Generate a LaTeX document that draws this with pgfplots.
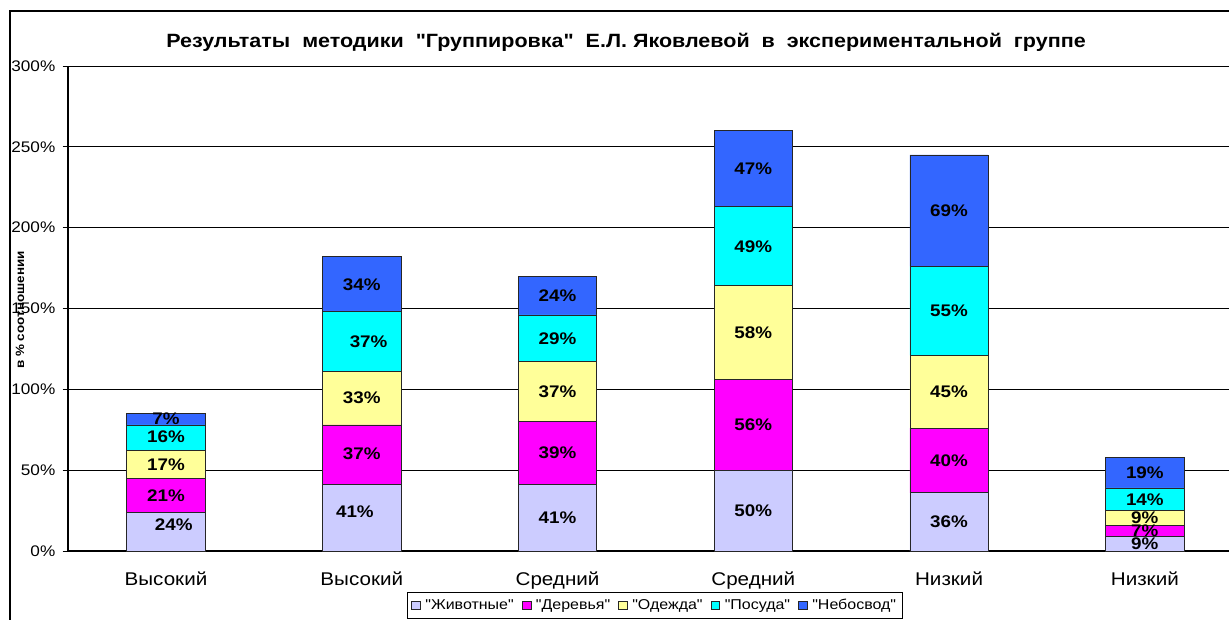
\documentclass[border=0pt]{standalone}
\usepackage{pgfplots}
\pgfplotsset{compat=1.18}
\usepackage{fontspec}
\setmainfont[FakeStretch=1.12, Ligatures=TeXOff]{Liberation Sans}
\definecolor{cA}{HTML}{CCCCFF}
\definecolor{cB}{HTML}{FF00FF}
\definecolor{cC}{HTML}{FFFF99}
\definecolor{cD}{HTML}{00FFFF}
\definecolor{cE}{HTML}{3366FF}
\begin{document}
\begin{tikzpicture}[x=0.75pt,y=0.75pt]
\useasboundingbox (0,0) rectangle (1229,619);
\clip (0,0) rectangle (1229,619);
\draw[line width=0.9pt] (10,-20) -- (10,608) -- (1260,608);
\node[font=\bfseries\fontsize{14.4}{16}\selectfont] at (626,577) {Результаты~ методики~ "Группировка"~ Е.Л.~Яковлевой~ в~ экспериментальной~ группе};
\begin{axis}[
  at={(51pt,51pt)}, anchor=south west,
  scale only axis, width=870.75pt, height=363.75pt,
  ybar stacked, bar width=0.4,
  xmin=-0.5005, xmax=5.43, ymin=0, ymax=300,
  ytick={0,50,...,300},
  yticklabels={0\%,50\%,100\%,150\%,200\%,250\%,300\%},
  xtick={0,...,5},
  xticklabels={Высокий,Высокий,Средний,Средний,Низкий,Низкий},
  axis x line*=bottom, axis y line*=left,
  axis line style={black, line width=0.8pt},
  ymajorgrids, grid style={black, line width=0.6pt},
  tick align=outside, major tick length=4pt,
  ytick style={black, line width=0.6pt},
  xtick style={draw=none},
  yticklabel style={xshift=-2pt, font=\fontsize{11.5}{13}\selectfont},
  xticklabel style={yshift=-8pt, font=\fontsize{13.8}{15}\selectfont},
  every axis plot/.append style={draw=black!85, line width=0.6pt},
  legend image code/.code={\draw[#1, line width=0.5pt] (0pt,-3.3pt) rectangle (6.6pt,3.3pt);},
  legend style={at={(0.5056,-0.0845)}, anchor=north, legend columns=5,
    draw=black, line width=0.6pt, font=\fontsize{10.7}{12.5}\selectfont,
    inner ysep=3pt, inner xsep=3pt,
    /tikz/every odd column/.append style={column sep=1.5pt},
    /tikz/every even column/.append style={column sep=4pt}},
]
\addplot[fill=cA] coordinates {(0,24) (1,41) (2,41) (3,50) (4,36) (5,9)};
\addplot[fill=cB] coordinates {(0,21) (1,37) (2,39) (3,56) (4,40) (5,7)};
\addplot[fill=cC] coordinates {(0,17) (1,33) (2,37) (3,58) (4,45) (5,9)};
\addplot[fill=cD] coordinates {(0,16) (1,37) (2,29) (3,49) (4,55) (5,14)};
\addplot[fill=cE] coordinates {(0,7) (1,34) (2,24) (3,47) (4,69) (5,19)};
\legend{"Животные","Деревья","Одежда","Посуда","Небосвод"}
\end{axis}
\begin{axis}[
  at={(51pt,51pt)}, anchor=south west,
  scale only axis, width=870.75pt, height=363.75pt,
  xmin=-0.5005, xmax=5.43, ymin=0, ymax=300,
  hide axis, clip=false,
  nodes near coords={\pgfplotspointmeta},
  point meta=explicit symbolic,
  nodes near coords style={anchor=center, inner sep=0pt, font=\bfseries\fontsize{12.6}{14}\selectfont},
]
\addplot[draw=none] coordinates {
 (0.04,16) [24\%] (0,34.5) [21\%] (0,53.5) [17\%] (0,70.5) [16\%] (0,82) [7\%]
 (0.965,24) [41\%] (1,60) [37\%] (1,94.5) [33\%] (1.035,129.5) [37\%] (1,165) [34\%]
 (2,20.5) [41\%] (2,60.5) [39\%] (2,98.5) [37\%] (2,131.5) [29\%] (2,158) [24\%]
 (3,25) [50\%] (3,78) [56\%] (3,135) [58\%] (3,188.5) [49\%] (3,236.5) [47\%]
 (4,18) [36\%] (4,56) [40\%] (4,98.5) [45\%] (4,148.5) [55\%] (4,210.5) [69\%]
 (5,4.5) [9\%] (5,12.5) [7\%] (5,20.5) [9\%] (5,32) [14\%] (5,48.5) [19\%]
};
\end{axis}
\node[rotate=90, font=\bfseries\fontsize{9}{11}\selectfont] at (20,309) {в \% соотношении};
\end{tikzpicture}
\end{document}
